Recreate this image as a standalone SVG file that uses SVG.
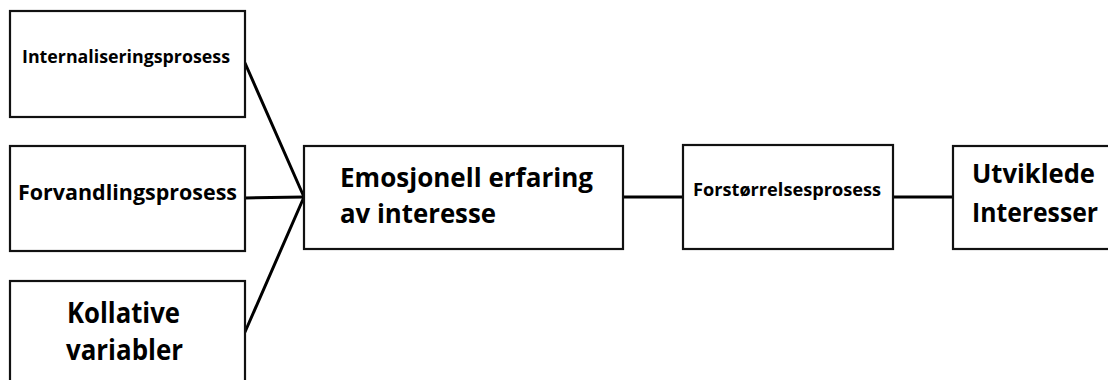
<svg xmlns="http://www.w3.org/2000/svg" width="1108" height="380" viewBox="0 0 1108 380">
<style>
.box{fill:#fff;stroke:#111;stroke-width:2.2}
.t{font-family:"Open Sans","Liberation Sans",sans-serif;font-weight:bold;fill:#000}
.c{stroke:#000;stroke-width:3;fill:none;stroke-linecap:round}
</style>
<rect width="1108" height="380" fill="#fff"/>
<g id="connectors">
<line class="c" x1="245" y1="63" x2="304" y2="197"/>
<line class="c" x1="245" y1="198" x2="304" y2="197"/>
<line class="c" x1="245" y1="332" x2="304" y2="197"/>
<line class="c" x1="623" y1="197" x2="683" y2="197"/>
<line class="c" x1="893" y1="197" x2="953" y2="197"/>
</g>
<g id="n1">
<rect class="box" x="10" y="11" width="235" height="106"/>
<text class="t" x="22" y="63" font-size="18" textLength="208" lengthAdjust="spacingAndGlyphs">Internaliseringsprosess</text>
</g>
<g id="n2">
<rect class="box" x="10" y="146" width="235" height="105"/>
<text class="t" x="18" y="200" font-size="21" textLength="219" lengthAdjust="spacingAndGlyphs">Forvandlingsprosess</text>
</g>
<g id="n3">
<rect class="box" x="10" y="281" width="235" height="110"/>
<text class="t" x="67" y="323" font-size="28" textLength="113" lengthAdjust="spacingAndGlyphs">Kollative</text>
<text class="t" x="66" y="360" font-size="28" textLength="117" lengthAdjust="spacingAndGlyphs">variabler</text>
</g>
<g id="n4">
<rect class="box" x="304" y="146" width="319" height="103"/>
<text class="t" x="340" y="187" font-size="27" textLength="253" lengthAdjust="spacingAndGlyphs">Emosjonell erfaring</text>
<text class="t" x="340" y="223" font-size="27" textLength="156" lengthAdjust="spacingAndGlyphs">av interesse</text>
</g>
<g id="n5">
<rect class="box" x="683" y="145" width="210" height="104"/>
<text class="t" x="693" y="196" font-size="17" textLength="188" lengthAdjust="spacingAndGlyphs">Forstørrelsesprosess</text>
</g>
<g id="n6">
<rect class="box" x="953" y="146" width="170" height="103"/>
<text class="t" x="972" y="183" font-size="27" textLength="123" lengthAdjust="spacingAndGlyphs">Utviklede</text>
<text class="t" x="972" y="222" font-size="27" textLength="126" lengthAdjust="spacingAndGlyphs">Interesser</text>
</g>
</svg>
